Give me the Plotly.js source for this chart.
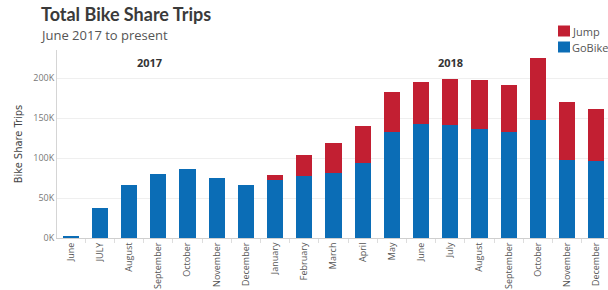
<!DOCTYPE html>
<html>
<head>
<meta charset="utf-8">
<script src="https://cdn.plot.ly/plotly-3.0.1.min.js"></script>
<style>html,body{margin:0;padding:0;background:#fff;}#chart{width:608px;height:290px;}</style>
</head>
<body>
<div id="chart"></div>
<script>
var monthLabels = ["June","JULY","August","September","October","November","December","January","February","March","April","May","June","July","August","September","October","November","December"];
var goBikeTrips = [3000, 37000, 66500, 80000, 86500, 75000, 66500, 72500, 78000, 81000, 93500, 133000, 143000, 141000, 136000, 133000, 147000, 98000, 96500];
var jumpTrips = [0, 0, 0, 0, 0, 0, 0, 6000, 26000, 37500, 46500, 50000, 51500, 57500, 61000, 58500, 77500, 72000, 64500];
var seriesNames = ["Jump", "GoBike"];
var yearLabels = ["2017", "2018"];
var yearPositions = [2.7, 13];
var yTickVals = [0, 50000, 100000, 150000, 200000];
var yTickText = ["0K", "50K", "100K", "150K", "200K"];

var xIdx = monthLabels.map(function(_, i){ return i; });
var blue = "#0b6db6";
var red = "#c21f32";
var seriesColors = [red, blue];
var font = "Open Sans, Noto Sans, sans-serif";

var W = 608, H = 290, M = {l: 57, r: 0, t: 50, b: 52};
var pw = W - M.l - M.r, ph = H - M.t - M.b;
function px2x(p){ return (p - M.l) / pw; }
function px2y(p){ return (H - M.b - p) / ph; }

var traces = [
  {type: "bar", name: "GoBike", x: xIdx, y: goBikeTrips, marker: {color: blue}, hoverinfo: "skip", showlegend: false},
  {type: "bar", name: "Jump", x: xIdx, y: jumpTrips, marker: {color: red}, hoverinfo: "skip", showlegend: false}
];

var annotations = yearLabels.map(function(t, i){
  return {text: "<b>" + t + "</b>", x: yearPositions[i], y: 219000, xref: "x", yref: "y",
    showarrow: false, font: {family: font, size: 11, color: "#333"}};
});
annotations.push({text: "June 2017 to present", xref: "paper", yref: "paper", x: px2x(38), y: px2y(34.5),
  xanchor: "left", yanchor: "middle", showarrow: false, font: {family: font, size: 13, color: "#555"}});

// legend (key squares + labels)
var shapes = [];
seriesNames.forEach(function(n, i){
  var cy = 31 + i * 16;
  shapes.push({type: "rect", xref: "paper", yref: "paper", x0: px2x(558), x1: px2x(570),
    y0: px2y(cy - 5.5), y1: px2y(cy + 5.5), fillcolor: seriesColors[i], line: {width: 0}});
  annotations.push({text: n, xref: "paper", yref: "paper", x: px2x(570), y: px2y(cy),
    xanchor: "left", yanchor: "middle", showarrow: false, font: {family: font, size: 11, color: "#555"}});
});

var layout = {
  width: W, height: H,
  margin: M,
  paper_bgcolor: "#fff", plot_bgcolor: "#fff",
  barmode: "stack", bargap: 0.45,
  showlegend: false,
  title: {text: "<b>Total Bike Share Trips</b>", x: 41/608, xanchor: "left", xref: "container",
    y: 1 - 15/290, yanchor: "middle", font: {family: "Lato, Open Sans, sans-serif", size: 18, color: "#3a3a3a"}},
  xaxis: {
    range: [-0.47, 18.4], tickvals: xIdx, ticktext: monthLabels, tickangle: -90,
    ticks: "", showgrid: false, zeroline: false, showline: true, linecolor: "#cfcfcf", linewidth: 1,
    tickfont: {family: font, size: 9, color: "#555"},
    minor: {tick0: 0.5, dtick: 1, ticks: "outside", ticklen: 4, tickcolor: "#ddd", showgrid: false}
  },
  yaxis: {
    range: [0, 235000], tickvals: yTickVals, ticktext: yTickText,
    showgrid: true, gridcolor: "#efefef", zeroline: false, showline: true, linecolor: "#d5d5d5", linewidth: 1,
    ticks: "", tickfont: {family: font, size: 9, color: "#777"},
    title: {text: "Bike Share Trips", standoff: 8, font: {family: "Liberation Sans Narrow, DejaVu Sans Condensed, sans-serif", size: 11, color: "#444"}}
  },
  shapes: shapes,
  annotations: annotations
};

Plotly.newPlot("chart", traces, layout, {displayModeBar: false, staticPlot: true});
</script>
</body>
</html>
